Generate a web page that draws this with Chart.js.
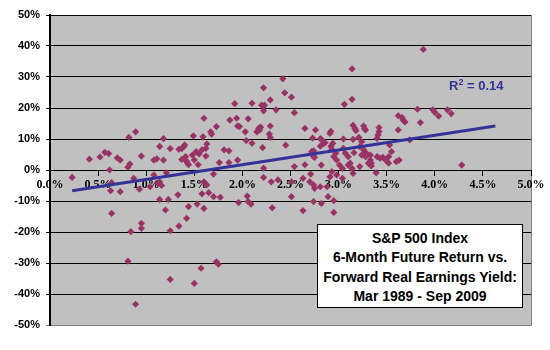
<!DOCTYPE html>
<html lang="en">
<head>
<meta charset="UTF-8">
<title>S&amp;P 500 Index - Future Return vs. Forward Real Earnings Yield</title>
<script src="https://cdn.jsdelivr.net/npm/chart.js"></script>
<style>
    body, html {
        margin: 0;
        padding: 0;
        background: #fff;
    }
    #wrap {
        position: relative;
        width: 550px;
        height: 350px;
    }
    #r2 {
        position: absolute;
        left: 449px;
        top: 78px;
        font: bold 13px "Liberation Sans", Arial, sans-serif;
        color: #333399;
        white-space: nowrap;
    }
    #r2 sup {
        font-size: 9px;
        vertical-align: 5px;
        line-height: 0;
    }
    #note {
        position: absolute;
        left: 317px;
        top: 224px;
        width: 206px;
        height: 84px;
        background: #fff;
        border: 1px solid #000;
        font: bold 14px "Liberation Sans", Arial, sans-serif;
        line-height: 19.3px;
        text-align: center;
        padding-top: 4px;
        box-sizing: border-box;
        color: #000;
    }
</style>
</head>
<body>
<div id="wrap">
    <canvas id="chart" width="550" height="350"></canvas>
    <div id="r2">R<sup>2</sup> = 0.14</div>
    <div id="note">S&amp;P 500 Index<br>6-Month Future Return vs.<br>Forward Real Earnings Yield:<br>Mar 1989 - Sep 2009</div>
</div>
<script>
    // forward real earnings yield (%) and 6-month future return (%)
    const yieldPct = [
        0.23, 0.41, 0.52, 0.57, 0.61, 0.62, 0.64, 0.63, 0.64, 0.70, 0.73, 0.73, 0.81, 0.81, 0.82, 0.83, 0.84, 0.87, 0.89, 0.89,
        0.93, 0.95, 0.95, 0.95, 1.04, 1.08, 1.08, 1.11, 1.12, 1.14, 1.14, 1.16, 1.14, 1.18, 1.18, 1.20, 1.21, 1.23, 1.25, 1.25,
        1.25, 1.33, 1.34, 1.34, 1.37, 1.37, 1.39, 1.40, 1.41, 1.42, 1.42, 1.43, 1.44, 1.44, 1.48, 1.49, 1.50, 1.50, 1.52, 1.53,
        1.54, 1.55, 1.57, 1.58, 1.58, 1.59, 1.60, 1.60, 1.60, 1.62, 1.62, 1.63, 1.63, 1.65, 1.67, 1.68, 1.70, 1.70, 1.73, 1.73,
        1.75, 1.76, 1.77, 1.81, 1.86, 1.86, 1.87, 1.92, 1.94, 1.95, 1.97, 1.95, 1.96, 2.03, 2.04, 2.05, 2.06, 2.06, 2.09, 2.10,
        2.10, 2.15, 2.17, 2.19, 2.18, 2.21, 2.22, 2.20, 2.23, 2.22, 2.22, 2.22, 2.28, 2.29, 2.29, 2.29, 2.30, 2.31, 2.35, 2.37,
        2.42, 2.44, 2.45, 2.51, 2.51, 2.51, 2.54, 2.54, 2.63, 2.63, 2.65, 2.65, 2.70, 2.71, 2.72, 2.73, 2.74, 2.74, 2.74, 2.74,
        2.75, 2.75, 2.76, 2.81, 2.81, 2.81, 2.82, 2.82, 2.82, 2.84, 2.86, 2.88, 2.89, 2.91, 2.91, 2.92, 2.92, 2.93, 2.93, 2.94,
        2.95, 2.95, 2.95, 2.97, 2.98, 2.98, 3.01, 3.04, 3.04, 3.05, 3.05, 3.06, 3.07, 3.10, 3.10, 3.12, 3.14, 3.14, 3.14, 3.15,
        3.15, 3.15, 3.16, 3.17, 3.18, 3.21, 3.22, 3.22, 3.24, 3.24, 3.26, 3.26, 3.27, 3.28, 3.28, 3.29, 3.31, 3.33, 3.33, 3.34,
        3.34, 3.39, 3.40, 3.40, 3.41, 3.42, 3.42, 3.43, 3.46, 3.49, 3.52, 3.52, 3.53, 3.55, 3.60, 3.62, 3.62, 3.63, 3.66, 3.67,
        3.69, 3.74, 3.82, 3.85, 3.88, 3.98, 4.00, 4.04, 4.13, 4.17, 4.28
    ];
    const returnPct = [
        -2.4, 3.5, 4.2, 5.7, 5.3, 0.0, -4.1, -6.7, -14.0, 3.9, 3.2, -7.0, 0.9, -29.4, 10.5, 1.9, -19.9, -2.7, 12.3, -43.3,
        -6.2, 4.5, -17.2, -18.8, -5.4, -1.6, 3.2, 3.6, -4.3, 7.6, -3.8, -5.0, -9.5, 10.1, 3.2, -12.9, -0.9, -9.5, 6.9, -19.6,
        -35.3, -8.0, 6.7, -18.1, 6.9, 3.4, 7.5, 8.1, 4.3, 2.8, -15.6, 2.2, 1.7, -11.8, 4.8, 11.0, 3.2, -36.6, 5.9, -11.0,
        1.7, 5.2, -31.7, 6.5, -7.7, 10.7, 16.7, -3.8, -12.4, 4.5, 7.0, 8.4, -4.8, -7.3, 12.3, 11.6, -1.3, -8.6, 14.0, -29.6,
        -30.4, 2.4, -8.8, 6.5, 6.2, 2.4, 16.1, 21.4, 16.7, 14.2, 14.0, 3.2, -10.5, 12.3, 9.5, -8.4, 16.5, -10.2, -11.0, 21.5,
        8.6, 12.3, 13.5, 13.8, 12.9, 7.2, 26.5, 20.9, 20.9, 19.1, 0.6, -2.4, 11.6, 10.5, 14.2, 22.6, -3.8, -12.2, 19.4, -3.2,
        29.4, 24.9, 8.0, 23.5, -3.8, -8.6, 18.5, 1.1, -2.7, -13.1, 13.4, 1.7, -3.8, -1.3, 5.9, 10.3, 6.2, 4.3, -4.8, -10.2,
        -5.9, 4.1, 12.9, 10.1, 7.7, -5.4, 1.6, 9.9, -10.8, 8.4, 8.8, -5.4, -8.6, 11.8, -2.2, 12.5, 7.7, -0.5, 6.7, 8.6,
        4.3, -9.9, -13.7, 5.4, 3.2, -1.6, 1.6, 0.5, -2.7, 10.0, 7.0, 21.2, 5.4, 4.3, 1.6, 2.2, 32.6, 22.8, 0.5, 14.4,
        9.9, -1.1, 5.6, 13.4, 12.7, 10.5, 7.5, 1.1, 9.1, 4.8, 14.2, 6.5, 13.3, 12.9, 4.3, 5.4, 2.2, 3.2, 4.8, 2.2,
        1.3, -0.9, 4.3, 10.2, 11.3, 12.4, 13.7, 3.8, 4.1, 3.2, 4.3, 2.2, 8.1, 5.9, 2.7, 12.9, 17.5, 3.2, 16.9, 16.1,
        15.5, 9.7, 19.6, 15.3, 38.9, 19.4, 18.6, 17.4, 19.4, 18.2, 1.6
    ];

    // linear trend line ends
    const trendX = [0.23, 4.63];
    const trendY = [-6.7, 14.2];

    const xTicks = [0, 0.5, 1, 1.5, 2, 2.5, 3, 3.5, 4, 4.5, 5];
    const yTicks = [-50, -40, -30, -20, -10, 0, 10, 20, 30, 40, 50];

    const points = yieldPct.map((x, i) => ({ x: x, y: returnPct[i] }));
    const trend = trendX.map((x, i) => ({ x: x, y: trendY[i] }));

    // grey plot area with a grey frame on the right and bottom
    const plotBg = {
        id: 'plotBg',
        beforeDraw(chart) {
            const a = chart.chartArea;
            const ctx = chart.ctx;
            ctx.save();
            ctx.fillStyle = '#c0c0c0';
            ctx.fillRect(a.left, a.top, a.right - a.left, a.bottom - a.top);
            ctx.strokeStyle = '#808080';
            ctx.lineWidth = 1;
            ctx.beginPath();
            ctx.moveTo(a.right + 0.5, a.top);
            ctx.lineTo(a.right + 0.5, a.bottom + 0.5);
            ctx.lineTo(a.left, a.bottom + 0.5);
            ctx.stroke();
            ctx.restore();
        }
    };

    new Chart(document.getElementById('chart'), {
        type: 'scatter',
        data: {
            datasets: [{
                type: 'line',
                data: trend,
                borderColor: '#333399',
                borderWidth: 3,
                pointRadius: 0,
                fill: false,
                order: 0
            }, {
                data: points,
                pointStyle: 'rectRot',
                pointRadius: 3.6,
                pointBorderWidth: 0,
                backgroundColor: '#993366',
                borderColor: '#993366',
                order: 1
            }]
        },
        options: {
            responsive: false,
            animation: false,
            layout: { padding: { left: 0, top: 15, right: 19, bottom: 25 } },
            plugins: {
                legend: { display: false },
                tooltip: { enabled: false }
            },
            scales: {
                x: {
                    type: 'linear',
                    position: { y: 0 },
                    min: 0,
                    max: 5,
                    afterBuildTicks: s => { s.ticks = xTicks.map(v => ({ value: v })); },
                    ticks: {
                        callback: v => v.toFixed(1) + '%',
                        color: '#000',
                        font: { family: '"Liberation Serif", "Times New Roman", serif', size: 12, weight: 'bold' },
                        padding: 3,
                        maxRotation: 0
                    },
                    grid: { drawOnChartArea: false, color: '#000', tickLength: 5 },
                    border: { color: '#000', width: 1 }
                },
                y: {
                    min: -50,
                    max: 50,
                    afterBuildTicks: s => { s.ticks = yTicks.map(v => ({ value: v })); },
                    afterFit: s => { s.width = 50; },
                    ticks: {
                        callback: v => v + '%',
                        color: '#000',
                        font: { family: '"Liberation Sans", Arial, sans-serif', size: 11, weight: 'bold' },
                        padding: 6
                    },
                    grid: {
                        color: c => (c.tick && c.tick.value === -50) ? '#808080' : '#000',
                        lineWidth: 1,
                        tickLength: 4
                    },
                    border: { color: '#000', width: 2 }
                }
            }
        },
        plugins: [plotBg]
    });
</script>
</body>
</html>
